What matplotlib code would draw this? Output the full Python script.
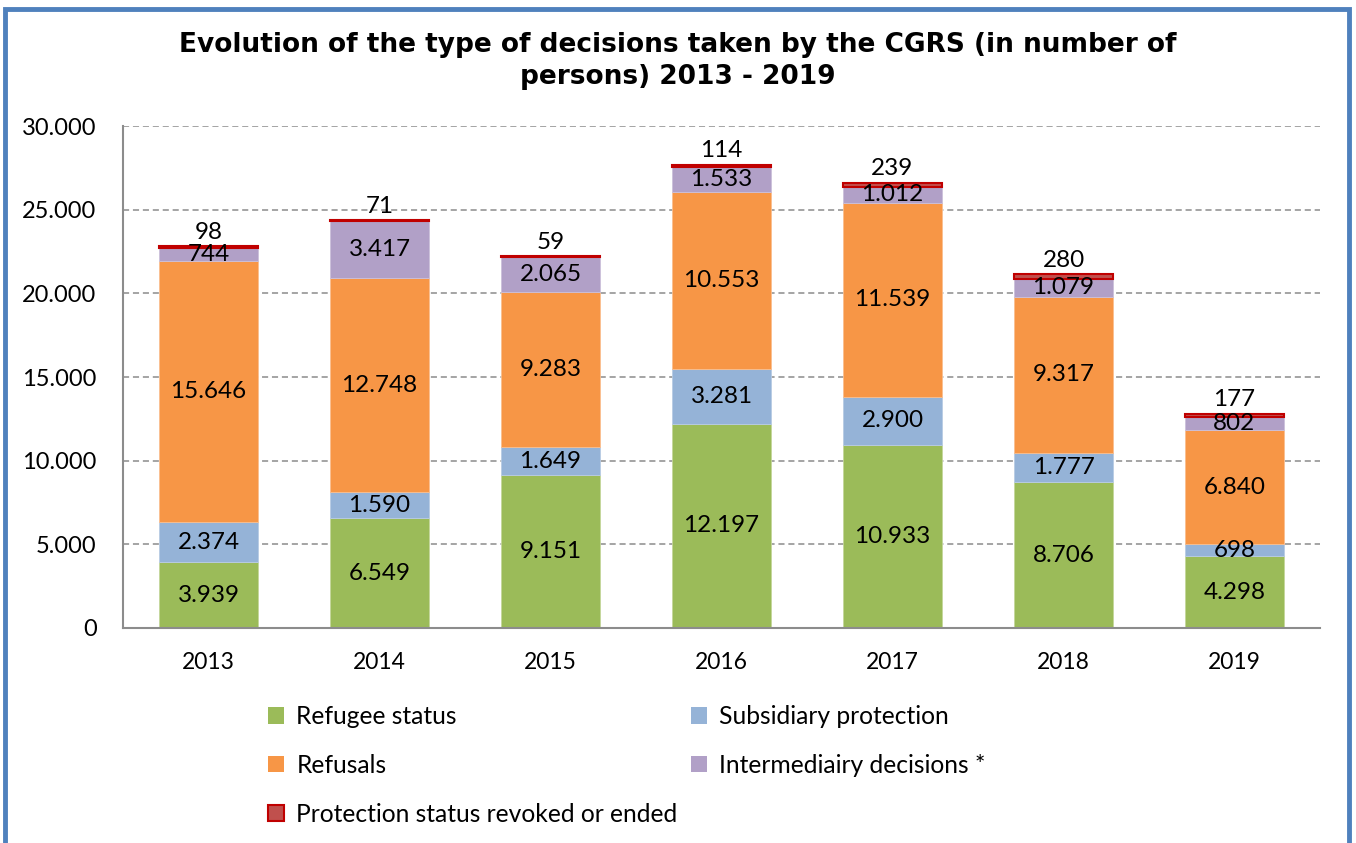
import numpy as np
import matplotlib.pyplot as plt
from matplotlib.patches import Rectangle, Patch

years = ['2013', '2014', '2015', '2016', '2017', '2018', '2019']
refugee = [3939, 6549, 9151, 12197, 10933, 8706, 4298]
subsidiary = [2374, 1590, 1649, 3281, 2900, 1777, 698]
refusals = [15646, 12748, 9283, 10553, 11539, 9317, 6840]
intermediary = [744, 3417, 2065, 1533, 1012, 1079, 802]
revoked = [98, 71, 59, 114, 239, 280, 177]

series = [
    ('Refugee status', refugee, '#9BBB59', '#C4D79B'),
    ('Subsidiary protection', subsidiary, '#95B3D7', '#B8CCE4'),
    ('Refusals', refusals, '#F79646', '#FABF8F'),
    ('Intermediairy decisions *', intermediary, '#B1A0C7', '#CCC0DA'),
]

font = 'Lato'
plt.rcParams['font.family'] = font

def fmt(v):
    return f'{v:,}'.replace(',', '.')

fig = plt.figure(figsize=(13.56, 8.43), dpi=100)
ax = fig.add_axes([123/1356, 1 - 628/843, (1320 - 123)/1356, (628 - 126)/843])

x = np.arange(len(years))
w = 0.575
bottom = np.zeros(len(years))
for name, vals, col, ec in series:
    vals = np.array(vals)
    ax.bar(x, vals, w, bottom=bottom, color=col, edgecolor=ec, linewidth=0.6, zorder=2)
    for xi, b, v in zip(x, bottom, vals):
        ax.text(xi, b + v / 2, fmt(v), ha='center', va='center', fontsize=17.5, zorder=4)
    bottom = bottom + vals

rev = np.array(revoked)
ax.bar(x, rev, w, bottom=bottom, color='#C0504D', edgecolor='#C00000', linewidth=1.5, zorder=3)
for xi, b, v in zip(x, bottom, rev):
    ax.annotate(fmt(v), (xi, b + v), xytext=(0, 10), textcoords='offset points',
                ha='center', va='center', fontsize=17.5, zorder=4)

ax.set_xlim(-0.5, len(years) - 0.5)
ax.set_ylim(0, 30000)
ax.set_yticks(np.arange(0, 30001, 5000))
ax.set_yticklabels([fmt(v) for v in range(0, 30001, 5000)], fontsize=17)
ax.set_xticks(x)
ax.set_xticklabels(years, fontsize=16.5)
ax.tick_params(length=0)
ax.tick_params(axis='x', pad=17)
ax.tick_params(axis='y', pad=19)
ax.grid(axis='y', linestyle=(0, (4, 2.5)), color='#8C8C8C', linewidth=1.1, zorder=0)
for s in ['top', 'right']:
    ax.spines[s].set_visible(False)
for s in ['left', 'bottom']:
    ax.spines[s].set_color('#8C8C8C')
    ax.spines[s].set_linewidth(1.5)

fig.text(0.5, 1 - 45/843, 'Evolution of the type of decisions taken by the CGRS (in number of',
         ha='center', va='center', fontsize=19, fontweight='bold', family='DejaVu Sans')
fig.text(0.5, 1 - 77/843, 'persons) 2013 - 2019',
         ha='center', va='center', fontsize=19, fontweight='bold', family='DejaVu Sans')

leg_handles = [
    Patch(facecolor='#9BBB59'),
    Patch(facecolor='#F79646'),
    Patch(facecolor='#C0504D', edgecolor='#C00000', linewidth=1.5),
    Patch(facecolor='#95B3D7'),
    Patch(facecolor='#B1A0C7'),
]
leg_labels = ['Refugee status', 'Refusals', 'Protection status revoked or ended',
              'Subsidiary protection', 'Intermediairy decisions *']
fig.legend(leg_handles, leg_labels, ncol=2, loc='upper left',
           bbox_to_anchor=(268/1356, 1 - 705/843), frameon=False, fontsize=17.7,
           handlelength=0.65, handleheight=0.65, handletextpad=0.5,
           labelspacing=1.05, columnspacing=0.55, borderaxespad=0, borderpad=0)

fig.patches.append(Rectangle((5/1356, -0.05), (1349 - 5)/1356, 1.05 - 9/843,
                             transform=fig.transFigure, fill=False,
                             edgecolor='#4F81BD', linewidth=3.5))

fig.savefig('out.png', dpi=100)
